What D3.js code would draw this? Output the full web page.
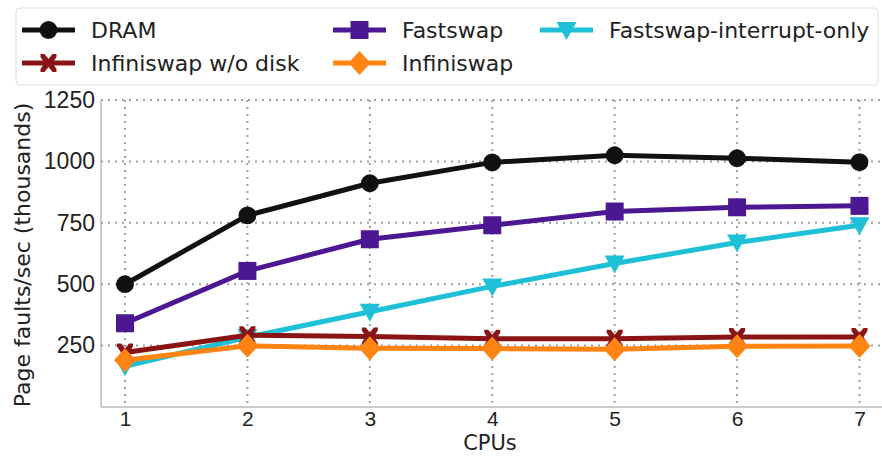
<!DOCTYPE html>
<html>
<head>
<meta charset="utf-8">
<script src="https://cdn.jsdelivr.net/npm/d3@7"></script>
<style>
  body { margin: 0; background: #fff; }
  svg { display: block; font-family: "DejaVu Sans", sans-serif; }
</style>
</head>
<body>
<svg id="chart" width="882" height="456"></svg>
<script>
// data, in thousands of page faults per second
const cpus = [1, 2, 3, 4, 5, 6, 7]
const yTicks = [250, 500, 750, 1000, 1250]
const dram = [500, 780, 911, 996, 1025, 1013, 997]
const fastswap = [341, 554, 683, 740, 796, 813, 819]
const fastswapIrq = [166, 284, 388, 491, 584, 670, 740]
const infiniswapNoDisk = [222, 292, 287, 278, 278, 285, 285]
const infiniswap = [190, 249, 239, 238, 235, 247, 248]

const series = [
  { name: 'Fastswap-interrupt-only', values: fastswapIrq, color: '#1ec0d8', marker: 'tri' },
  { name: 'DRAM', values: dram, color: '#111111', marker: 'circle' },
  { name: 'Fastswap', values: fastswap, color: '#4c1792', marker: 'square' },
  { name: 'Infiniswap w/o disk', values: infiniswapNoDisk, color: '#8a1414', marker: 'x' },
  { name: 'Infiniswap', values: infiniswap, color: '#ff8412', marker: 'diamond' }
]
const legendOrder = ['DRAM', 'Fastswap', 'Fastswap-interrupt-only', 'Infiniswap w/o disk', 'Infiniswap']

const svg = d3.select('#chart')
const plot = { left: 101, right: 882, top: 100, bottom: 407 }

const x = d3.scaleLinear().domain([1, 7]).range([125, 859.5])
const y = d3.scaleLinear().domain([0, 1250]).range([plot.bottom, plot.top])

// grid
const grid = svg.append('g')
grid.selectAll('.hg').data(yTicks).enter().append('line')
  .attr('x1', plot.left).attr('x2', plot.right)
  .attr('y1', d => y(d)).attr('y2', d => y(d))
  .attr('stroke', '#9aa0a6').attr('stroke-width', 2).attr('stroke-dasharray', '2,5')
grid.selectAll('.vg').data(cpus).enter().append('line')
  .attr('x1', d => x(d)).attr('x2', d => x(d))
  .attr('y1', plot.top).attr('y2', plot.bottom)
  .attr('stroke', '#9aa0a6').attr('stroke-width', 2).attr('stroke-dasharray', '2,5')

// axes
const xAxis = svg.append('g')
  .attr('transform', 'translate(0,' + plot.bottom + ')')
  .call(d3.axisBottom(x).tickValues(cpus).tickSize(0).tickPadding(4).tickFormat(d3.format('d')))
const yAxis = svg.append('g')
  .attr('transform', 'translate(' + plot.left + ',0)')
  .call(d3.axisLeft(y).tickValues(yTicks).tickSize(0).tickPadding(6).tickFormat(d3.format('d')))
;[xAxis, yAxis].forEach(a => {
  a.select('.domain').remove()
  a.selectAll('text').attr('font-size', 23).attr('fill', '#222')
})
xAxis.selectAll('text').attr('font-size', 21)
svg.append('line').attr('x1', plot.left).attr('x2', plot.right)
  .attr('y1', plot.bottom).attr('y2', plot.bottom).attr('stroke', '#999')
svg.append('line').attr('x1', plot.left).attr('x2', plot.left)
  .attr('y1', plot.top).attr('y2', plot.bottom).attr('stroke', '#999')

svg.append('text').text('CPUs')
  .attr('x', 490).attr('y', 450).attr('text-anchor', 'middle')
  .attr('font-size', 21).attr('fill', '#222')
svg.append('text').text('Page faults/sec (thousands)')
  .attr('transform', 'translate(30,255) rotate(-90)')
  .attr('text-anchor', 'middle').attr('font-size', 22).attr('fill', '#222')

function markerPath (type) {
  switch (type) {
    case 'circle': return d3.symbol(d3.symbolCircle, 250)()
    case 'square': return 'M-9,-9H9V9H-9Z'
    case 'diamond': return 'M0,-12L11,0L0,12L-11,0Z'
    case 'tri': return 'M-10,-8L10,-8L0,10Z'
    case 'x': return 'M-8,-9L-4,-9L0,-4L4,-9L8,-9L8,-6L4,0L8,6L8,9L4,9L0,4L-4,9L-8,9L-8,6L-4,0L-8,-6Z'
  }
}

const line = d3.line().x((d, i) => x(cpus[i])).y(d => y(d))
series.forEach(s => {
  const g = svg.append('g')
  g.append('path').datum(s.values).attr('d', line)
    .attr('fill', 'none').attr('stroke', s.color).attr('stroke-width', 5)
    .attr('stroke-linejoin', 'round')
  g.selectAll('.m').data(s.values).enter().append('path')
    .attr('d', markerPath(s.marker))
    .attr('transform', (d, i) => 'translate(' + x(cpus[i]) + ',' + y(d) + ')')
    .attr('fill', s.color)
})

// legend
svg.append('rect').attr('x', 16).attr('y', 8).attr('width', 862).attr('height', 77)
  .attr('rx', 4).attr('fill', '#fff').attr('stroke', '#ddd')
const legendPos = {
  'DRAM': [22, 30],
  'Infiniswap w/o disk': [22, 63],
  'Fastswap': [333, 30],
  'Infiniswap': [333, 63],
  'Fastswap-interrupt-only': [540, 30]
}
legendOrder.forEach(name => {
  const s = series.find(d => d.name === name)
  const [lx, ly] = legendPos[name]
  const lg = svg.append('g').attr('transform', 'translate(' + lx + ',' + ly + ')')
  lg.append('line').attr('x1', 0).attr('x2', 53).attr('stroke', s.color).attr('stroke-width', 5)
  lg.append('path').attr('d', markerPath(s.marker)).attr('transform', 'translate(26.5,0)').attr('fill', s.color)
  lg.append('text').text(name).attr('x', 69).attr('dy', '0.35em')
    .attr('font-size', 22).attr('fill', '#222')
})
</script>
</body>
</html>
